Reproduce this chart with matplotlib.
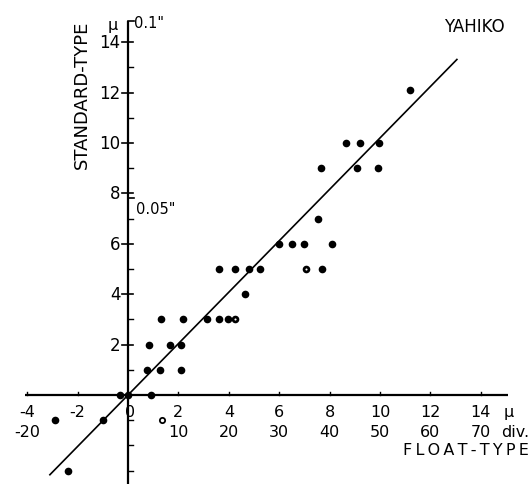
import matplotlib
matplotlib.use("Agg")
import matplotlib.pyplot as plt
import numpy as np

# ---- data (microns) ----
float_x = [-2.9, -2.4, -1.0, -0.3, 0.0, 0.9, 0.75, 1.25, 0.85, 1.3, 1.65, 2.1, 2.1,
           2.2, 3.15, 3.6, 3.95, 3.6, 4.25, 4.8, 5.25, 4.65, 6.0, 6.5, 7.0, 8.1,
           7.55, 7.65, 9.1, 9.9, 8.65, 9.2, 9.95, 11.2, 7.7]
std_y = [-1, -3, -1, 0, 0, 0, 1, 1, 2, 3, 2, 2, 1,
         3, 3, 3, 3, 5, 5, 5, 5, 4, 6, 6, 6, 6,
         7, 9, 9, 9, 10, 10, 10, 12.1, 5]
dot_center_x = [4.25, 7.05]
dot_center_y = [3, 5]
small_x = [1.35]
small_y = [-1]
line_x = [-3.1, 13.05]
slope = 1.02

y_major = [2, 4, 6, 8, 10, 12, 14]
y_minor = [1, 3, 5, 7, 9, 11, 13, -1, -2, -3]
x_mu = [-4, -2, 0, 2, 4, 6, 8, 10, 12, 14]
x_div_pos = [-4, 2, 4, 6, 8, 10, 12, 14]
x_div_lab = ["-20", "10", "20", "30", "40", "50", "60", "70"]

fig = plt.figure(figsize=(5.32, 4.85), dpi=100)
ax = fig.add_axes([0, 0, 1, 1])
ax.set_xlim(-5.08, 16.03)
ax.set_ylim(-3.53, 15.71)
ax.axis("off")

k = "black"
# axes
ax.plot([-4.09, 15.08], [0, 0], color=k, lw=1.6, solid_capstyle="butt")
ax.plot([0, 0], [-3.6, 14.84], color=k, lw=1.6, solid_capstyle="butt")
ax.plot([0, 0.25], [14.84, 14.84], color=k, lw=1.2)
ax.plot([0, 0.22], [7.8, 7.8], color=k, lw=1.2)

# y ticks
for v in y_major:
    ax.plot([-0.22, 0.18], [v, v], color=k, lw=1.2)
for v in y_minor:
    ax.plot([0, 0.2], [v, v], color=k, lw=1.0)
# x ticks
for v in x_mu:
    ax.plot([v, v], [0, 0.12], color=k, lw=1.0)

fs = 11.5
for v in y_major:
    ax.text(-0.3, v, str(v), ha="right", va="center", fontsize=fs + 0.5)
for v in x_mu:
    ax.text(v + (0.08 if v == 0 else 0), -0.67, str(v), ha="center", va="center", fontsize=fs)
for v, s in zip(x_div_pos, x_div_lab):
    ax.text(v, -1.43, s, ha="center", va="center", fontsize=fs)
ax.text(15.1, -0.67, "μ", ha="center", va="center", fontsize=fs)
ax.text(14.8, -1.43, "div.", ha="left", va="center", fontsize=fs)
ax.text(15.9, -2.15, "\u2009".join("FLOAT-TYPE"), ha="right", va="center", fontsize=11.5)
ax.text(-1.82, 11.95, "STANDARD-TYPE", ha="center", va="center", rotation=90, fontsize=13)
ax.text(-0.6, 14.7, "μ", ha="center", va="center", fontsize=fs)
ax.text(0.22, 14.78, "0.1\"", ha="left", va="center", fontsize=10.5)
ax.text(0.3, 7.38, "0.05\"", ha="left", va="center", fontsize=10.5)
ax.text(13.75, 14.65, "YAHIKO", ha="center", va="center", fontsize=12)

# regression line
lx = np.array(line_x)
ax.plot(lx, slope * lx, color=k, lw=1.2)

# points
ax.plot(float_x, std_y, "o", color=k, ms=5.5, mew=0)
ax.plot(dot_center_x, dot_center_y, "o", color=k, ms=5.5, mew=0)
ax.plot(dot_center_x, dot_center_y, "o", color="white", ms=1.5, mew=0)
ax.plot(small_x, small_y, "o", mfc="white", mec=k, ms=3.8, mew=1.3)

fig.savefig("out.png", dpi=100)
